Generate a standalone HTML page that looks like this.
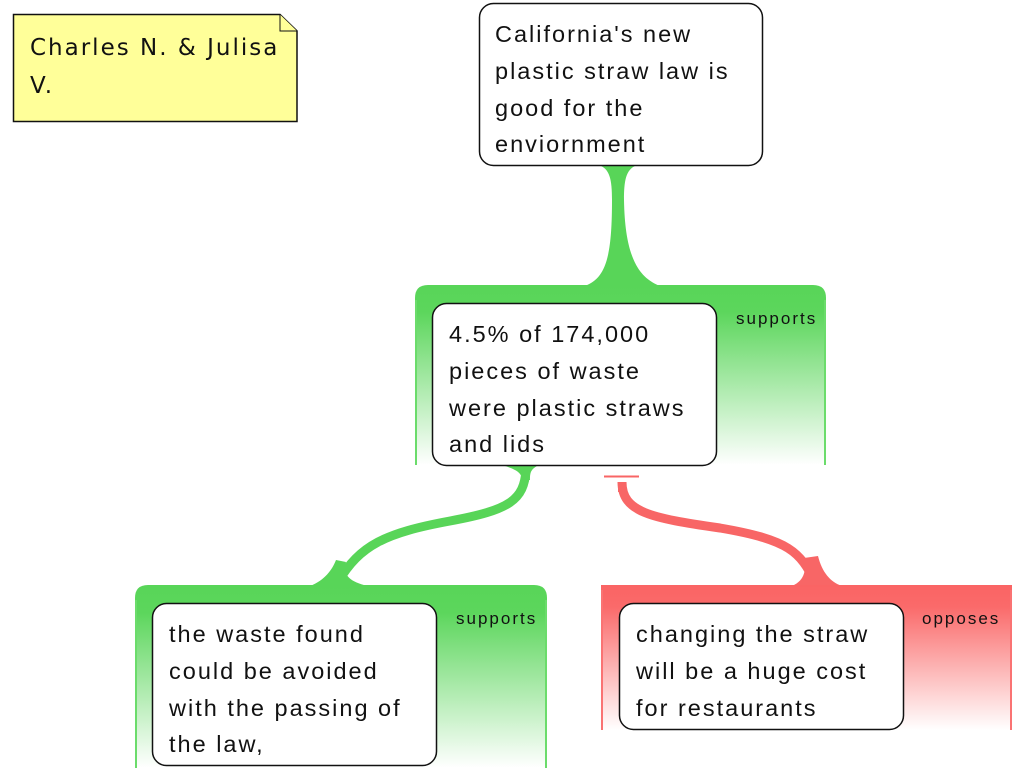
<!DOCTYPE html>
<html><head><meta charset="utf-8"><style>
body{margin:0;width:1024px;height:768px;background:#fff;overflow:hidden}
svg{display:block}
.t{font-family:"Liberation Sans",Arial,sans-serif;font-size:23.5px;fill:#111;letter-spacing:2px}
.s{font-family:"Liberation Sans",Arial,sans-serif;font-size:17px;fill:#111;letter-spacing:2px}
.n{font-family:"Comic Sans MS","DejaVu Sans",sans-serif;font-size:23px;fill:#111;letter-spacing:2px}
</style></head><body>
<svg width="1024" height="768" viewBox="0 0 1024 768">
<defs>
<linearGradient id="g" x1="0" y1="0" x2="0" y2="1">
<stop offset="0" stop-color="#58d558"/><stop offset="0.15" stop-color="#5cd65c"/><stop offset="1" stop-color="#ffffff"/>
</linearGradient>
<linearGradient id="r" x1="0" y1="0" x2="0" y2="1">
<stop offset="0" stop-color="#fa6464"/><stop offset="0.15" stop-color="#fa6a6a"/><stop offset="1" stop-color="#ffffff"/>
</linearGradient>
</defs>

<path d="M13.5,14.5 H280 L297,31 V121.5 H13.5 Z" fill="#ffff99" stroke="#111" stroke-width="1.5"/>
<path d="M280,14.5 V31 H297" fill="#ffff99" stroke="#111" stroke-width="1"/>
<text class="n" x="30" y="55">Charles N. &amp; Julisa</text>
<text class="n" x="30" y="93">V.</text>

<path d="M598,165 C610,168 612,180 612,200 C612,260 605,278 585,286 L660,286 C640,278 625,260 624,200 C624,180 626,168 638,165 Z" fill="#58d558"/>

<path d="M415,465 V298 Q415,285 428,285 H813 Q826,285 826,298 V465 Z" fill="url(#g)"/>
<path d="M416,465 V300 M825,465 V300" stroke="#6bdc6b" stroke-width="2"/>
<text class="s" x="736" y="324">supports</text>

<path d="M505,466 L537,466 C530,470 530,474 530,480 L522,480 C522,474 518,470 505,466 Z" fill="#58d558"/>
<path d="M526,470 C524,500 510,510 450,521 C385,533 360,545 338,582" stroke="#58d558" stroke-width="9" fill="none"/>
<path d="M310,586 C325,580 332,570 336,560 L346,562 C342,575 350,582 368,586 Z" fill="#58d558"/>

<path d="M604,476.5 H639" stroke="#f86565" stroke-width="2"/>
<path d="M622,482 C622,512 650,518 720,528 C790,540 800,552 815,582" stroke="#f86666" stroke-width="9" fill="none"/>
<path d="M618,482 H626 V492 H618 Z" fill="#f86666"/>
<path d="M792,586 C806,580 806,568 804,558 L818,556 C822,572 830,582 842,586 Z" fill="#f86666"/>

<path d="M135,768 V598 Q135,585 148,585 H534 Q547,585 547,598 V768 Z" fill="url(#g)"/>
<path d="M136,768 V600 M546,768 V600" stroke="#6bdc6b" stroke-width="2"/>
<text class="s" x="456" y="624">supports</text>

<path d="M601,730 V585 H1012 V730 Z" fill="url(#r)"/>
<path d="M602,730 V590 M1011,730 V590" stroke="#fa7373" stroke-width="2"/>
<text class="s" x="922" y="624">opposes</text>

<rect x="479.5" y="3.5" width="283" height="162" rx="14" fill="#fff" stroke="#111" stroke-width="1.5"/>
<text class="t" x="495" y="42">California's new</text>
<text class="t" x="495" y="79">plastic straw law is</text>
<text class="t" x="495" y="116">good for the</text>
<text class="t" x="495" y="152">enviornment</text>

<rect x="432.5" y="303.5" width="284" height="162" rx="14" fill="#fff" stroke="#111" stroke-width="1.5"/>
<text class="t" x="449" y="342">4.5% of 174,000</text>
<text class="t" x="449" y="379">pieces of waste</text>
<text class="t" x="449" y="416">were plastic straws</text>
<text class="t" x="449" y="452">and lids</text>

<rect x="152.5" y="603.5" width="284" height="162" rx="14" fill="#fff" stroke="#111" stroke-width="1.5"/>
<text class="t" x="169" y="642">the waste found</text>
<text class="t" x="169" y="679">could be avoided</text>
<text class="t" x="169" y="716">with the passing of</text>
<text class="t" x="169" y="752">the law,</text>

<rect x="619.5" y="603.5" width="284" height="126" rx="14" fill="#fff" stroke="#111" stroke-width="1.5"/>
<text class="t" x="636" y="642">changing the straw</text>
<text class="t" x="636" y="679">will be a huge cost</text>
<text class="t" x="636" y="716">for restaurants</text>
</svg>
</body></html>
